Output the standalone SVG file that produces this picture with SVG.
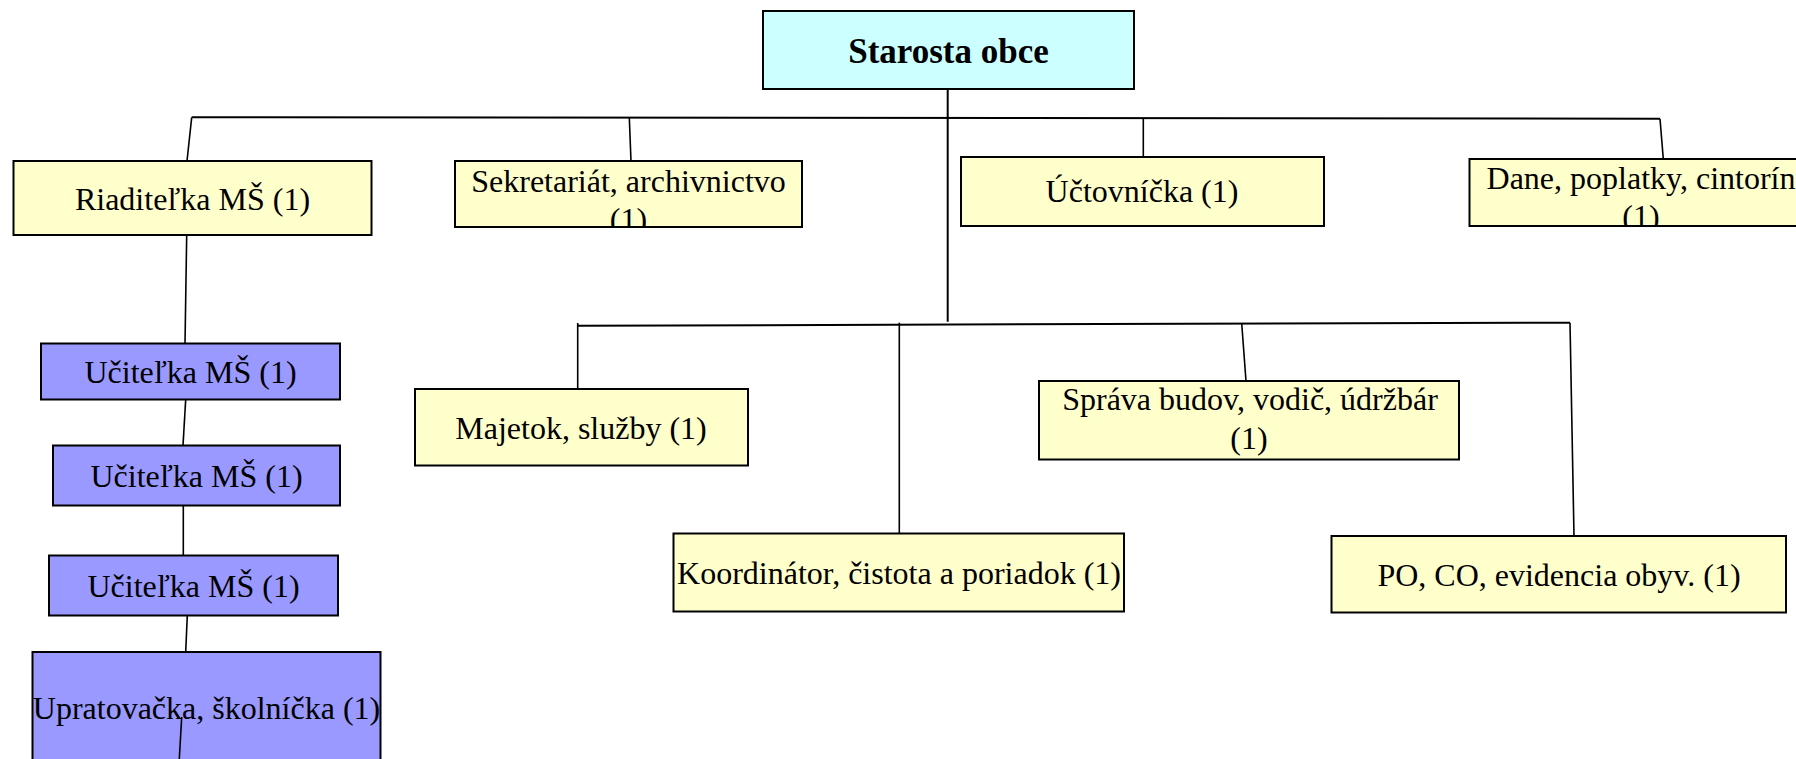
<svg xmlns="http://www.w3.org/2000/svg" width="1796" height="759" viewBox="0 0 1796 759">
<style>
.box{stroke:#000;stroke-width:2}
.y{fill:#FFFFCC}
.c{fill:#CCFFFF}
.b{fill:#9999FF}
.t{font-family:"Liberation Serif","Times New Roman",serif;font-size:32px;fill:#000;text-anchor:middle}
.tb{font-family:"Liberation Serif","Times New Roman",serif;font-size:35px;font-weight:bold;fill:#000;text-anchor:middle}
.ln{stroke:#000;stroke-width:1.6;fill:none}
</style>
<defs>
<clipPath id="clipSek"><rect x="455" y="161" width="347" height="66"/></clipPath>
<clipPath id="clipDane"><rect x="1469" y="159" width="400" height="67"/></clipPath>
</defs>
<rect width="1796" height="759" fill="#fff"/>
<g id="nodes">
<g id="starosta">
<rect class="box c" x="763" y="11" width="371" height="78"/>
<text class="tb" x="948.5" y="63">Starosta obce</text>
</g>
<g id="riaditelka">
<rect class="box y" x="13.5" y="161" width="358" height="74"/>
<text class="t" x="192.5" y="210">Riaditeľka MŠ (1)</text>
</g>
<g id="sekretariat">
<rect class="box y" x="455" y="161" width="347" height="66"/>
<g clip-path="url(#clipSek)">
<text class="t" x="628.5" y="191.5">Sekretariát, archivnictvo</text>
<text class="t" x="628.5" y="230">(1)</text>
</g>
</g>
<g id="uctovnicka">
<rect class="box y" x="961" y="157" width="363" height="69"/>
<text class="t" x="1142" y="201.5">Účtovníčka (1)</text>
</g>
<g id="dane">
<rect class="box y" x="1469.5" y="159" width="342" height="67"/>
<g clip-path="url(#clipDane)">
<text class="t" x="1641" y="188.5">Dane, poplatky, cintorín</text>
<text class="t" x="1641" y="227">(1)</text>
</g>
</g>
<g id="ucitelka1">
<rect class="box b" x="41" y="343.5" width="299" height="56"/>
<text class="t" x="190.5" y="382.5">Učiteľka MŠ (1)</text>
</g>
<g id="ucitelka2">
<rect class="box b" x="53" y="445.5" width="287" height="60"/>
<text class="t" x="196.5" y="487">Učiteľka MŠ (1)</text>
</g>
<g id="ucitelka3">
<rect class="box b" x="49" y="555.5" width="289" height="60"/>
<text class="t" x="193.5" y="597">Učiteľka MŠ (1)</text>
</g>
<g id="upratovacka">
<rect class="box b" x="32.5" y="652" width="348" height="120"/>
<text class="t" x="206.5" y="718.5">Upratovačka, školníčka (1)</text>
</g>
<g id="majetok">
<rect class="box y" x="415" y="389" width="333" height="76.5"/>
<text class="t" x="581" y="438.5">Majetok, služby (1)</text>
</g>
<g id="koordinator">
<rect class="box y" x="673.5" y="533.5" width="450.5" height="78"/>
<text class="t" x="899" y="583.5">Koordinátor, čistota a poriadok (1)</text>
</g>
<g id="sprava">
<rect class="box y" x="1039" y="381" width="420" height="78.5"/>
<text class="t" x="1250" y="410">Správa budov, vodič, údržbár</text>
<text class="t" x="1249" y="448.5">(1)</text>
</g>
<g id="po-co">
<rect class="box y" x="1331.5" y="536" width="454.5" height="76.5"/>
<text class="t" x="1559" y="586">PO, CO, evidencia obyv. (1)</text>
</g>
</g>
<g id="connectors">
<line class="ln" x1="947.7" y1="89" x2="947.7" y2="321.7" style="stroke-width:2"/>
<line class="ln" x1="191.7" y1="117.3" x2="1660" y2="118.7" style="stroke-width:2"/>
<line class="ln" x1="191.7" y1="117.3" x2="187" y2="161"/>
<line class="ln" x1="629.3" y1="117.5" x2="631" y2="161"/>
<line class="ln" x1="1143.3" y1="118.2" x2="1143.3" y2="157"/>
<line class="ln" x1="1660" y1="118.7" x2="1663.3" y2="159"/>
<line class="ln" x1="186.7" y1="235.3" x2="185" y2="343.5"/>
<line class="ln" x1="185.7" y1="399.5" x2="183" y2="445.5"/>
<line class="ln" x1="183.3" y1="505.5" x2="183.3" y2="555.5"/>
<line class="ln" x1="187.3" y1="615.5" x2="185.7" y2="652"/>
<line class="ln" x1="181.7" y1="717" x2="179.3" y2="759"/>
<line class="ln" x1="577.7" y1="325.7" x2="1570" y2="322.7" style="stroke-width:2"/>
<line class="ln" x1="577.7" y1="323" x2="577.7" y2="389"/>
<line class="ln" x1="899.3" y1="322.7" x2="899.3" y2="533.5"/>
<line class="ln" x1="1241.7" y1="323.2" x2="1246" y2="381"/>
<line class="ln" x1="1570" y1="322.7" x2="1574" y2="536"/>
</g>
</svg>
